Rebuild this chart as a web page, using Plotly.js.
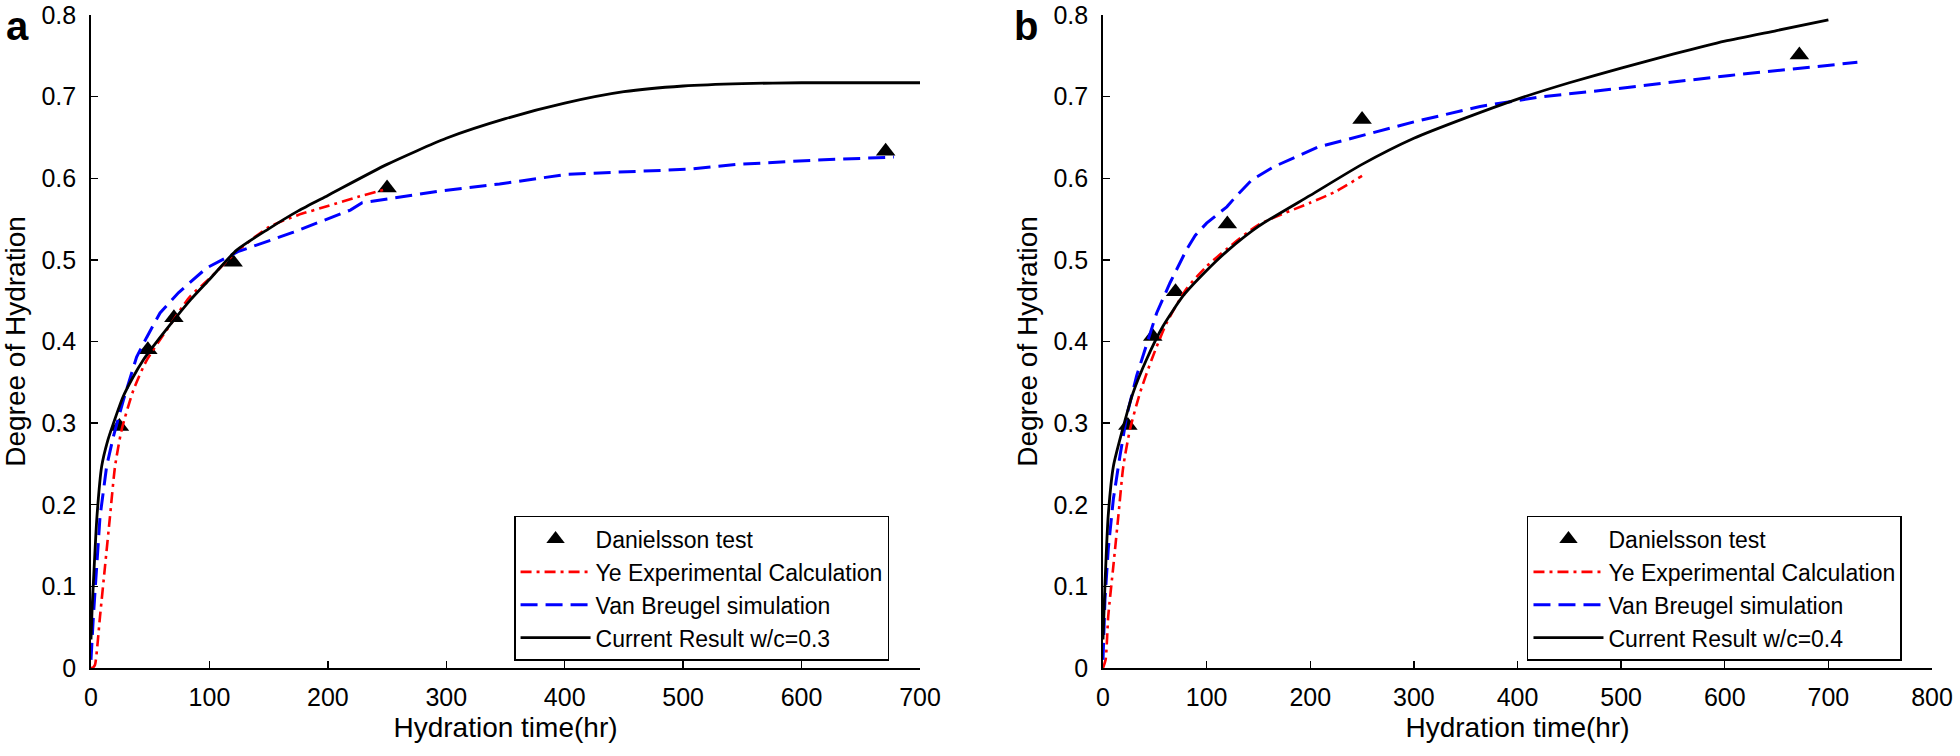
<!DOCTYPE html>
<html>
<head>
<meta charset="utf-8">
<script src="https://cdn.plot.ly/plotly-3.0.1.min.js"></script>
<style>html,body{margin:0;padding:0;background:#fff;}#chart{width:1960px;height:756px;}</style>
</head>
<body>
<div id="chart"></div>
<script>
// ---------- Panel a (w/c = 0.3) ----------
const danT_a = [24, 48, 70, 120, 250, 671];
const danV_a = [0.296, 0.39, 0.429, 0.497, 0.588, 0.633];

const yeT_a = [0, 2, 3.4, 7.6, 11.8, 16, 20.3, 25.9, 35.7, 47, 63.9, 83.6, 100, 123, 150, 175, 200, 225, 250];
const yeV_a = [0, 0.001, 0.004, 0.063, 0.124, 0.185, 0.247, 0.292, 0.34, 0.377, 0.414, 0.455, 0.477, 0.51, 0.54, 0.555, 0.566, 0.577, 0.587];

const vbT_a = [0, 0.5, 2, 4.8, 7.6, 13.2, 18.8, 27.3, 38.5, 47, 58.3, 74, 97.5, 124, 171, 219, 229, 293, 345, 403, 451, 504, 546, 609, 678];
const vbV_a = [0.01, 0.026, 0.063, 0.124, 0.185, 0.247, 0.283, 0.328, 0.381, 0.405, 0.435, 0.46, 0.49, 0.51, 0.534, 0.561, 0.57, 0.584, 0.593, 0.605, 0.608, 0.611, 0.617, 0.622, 0.626];

const curT_a = [0, 1, 2, 5, 9, 14, 19, 27, 35, 44, 52, 61, 72, 84, 100, 123, 150, 175, 200, 250, 300, 350, 400, 450, 500, 550, 600, 700];
const curV_a = [0.035, 0.075, 0.104, 0.185, 0.247, 0.278, 0.30, 0.332, 0.355, 0.377, 0.393, 0.41, 0.43, 0.451, 0.476, 0.512, 0.538, 0.56, 0.579, 0.617, 0.649, 0.673, 0.692, 0.706, 0.713, 0.716, 0.717, 0.717];

// ---------- Panel b (w/c = 0.4) ----------
const danT_b = [24, 48, 70, 120, 250, 672];
const danV_b = [0.297, 0.406, 0.461, 0.544, 0.672, 0.751];

const yeT_b = [0, 2.5, 5.1, 10, 14.8, 19.6, 26, 35.7, 47, 61.5, 80.8, 100, 120, 150, 200, 225, 250];
const yeV_b = [0, 0.01, 0.064, 0.125, 0.186, 0.247, 0.292, 0.337, 0.378, 0.423, 0.465, 0.492, 0.514, 0.543, 0.57, 0.584, 0.603];

const vbT_b = [0, 1.9, 5.1, 10, 16.4, 22.9, 32.5, 42.2, 51.8, 64.7, 80.8, 89, 100, 119.5, 128.5, 143.6, 164.7, 207, 249, 303, 364, 424, 484, 545, 605, 659, 728];
const vbV_b = [0.01, 0.084, 0.146, 0.207, 0.26, 0.309, 0.358, 0.398, 0.435, 0.472, 0.513, 0.53, 0.545, 0.565, 0.578, 0.598, 0.614, 0.638, 0.652, 0.67, 0.688, 0.70, 0.708, 0.717, 0.726, 0.733, 0.742];

const curT_b = [0, 2, 5, 10, 18, 29, 42, 58, 78, 100, 120, 150, 200, 250, 300, 350, 400, 450, 500, 550, 600, 650, 700];
const curV_b = [0.035, 0.105, 0.186, 0.247, 0.288, 0.337, 0.378, 0.419, 0.457, 0.487, 0.511, 0.541, 0.579, 0.617, 0.649, 0.674, 0.697, 0.717, 0.735, 0.752, 0.768, 0.781, 0.794];

const names = ['Danielsson test', 'Ye Experimental Calculation', 'Van Breugel simulation'];
const curNames = ['Current Result w/c=0.3', 'Current Result w/c=0.4'];

const FONT = 'Liberation Sans, Arial, sans-serif';
const redDash = '11px,5px,3px,5px';
const blueDash = '17px,8px';

function panel(xa, ya, leg, dT, dV, yT, yV, bT, bV, cT, cV, cName) {
  return [
    {x: dT, y: dV, xaxis: xa, yaxis: ya, legend: leg, name: names[0], type: 'scatter', mode: 'markers',
     marker: {symbol: 'triangle-up', size: 17, color: '#000'}},
    {x: yT, y: yV, xaxis: xa, yaxis: ya, legend: leg, name: names[1], type: 'scatter', mode: 'lines',
     line: {color: '#ff0000', width: 2.6, dash: redDash, shape: 'spline', smoothing: 0.6}},
    {x: bT, y: bV, xaxis: xa, yaxis: ya, legend: leg, name: names[2], type: 'scatter', mode: 'lines',
     line: {color: '#0000ff', width: 3, dash: blueDash}},
    {x: cT, y: cV, xaxis: xa, yaxis: ya, legend: leg, name: cName, type: 'scatter', mode: 'lines',
     line: {color: '#000', width: 2.8, shape: 'spline', smoothing: 0.6}}
  ];
}

const data = [].concat(
  panel('x', 'y', 'legend', danT_a, danV_a, yeT_a, yeV_a, vbT_a, vbV_a, curT_a, curV_a, curNames[0]),
  panel('x2', 'y2', 'legend2', danT_b, danV_b, yeT_b, yeV_b, vbT_b, vbV_b, curT_b, curV_b, curNames[1])
);

function xax(dom, maxv) {
  return {domain: dom, range: [0, maxv], dtick: 100, tick0: 0, showgrid: false, zeroline: false,
    showline: true, linecolor: '#000', linewidth: 1.8, ticks: 'inside', ticklen: 7, tickwidth: 1.4, tickcolor: '#000',
    tickfont: {family: FONT, size: 25, color: '#000'}, ticklabelstandoff: 6,
    title: {text: 'Hydration time(hr)', font: {family: FONT, size: 28, color: '#000'}, standoff: 8}};
}
function yax(anchor) {
  return {domain: [0, 1], range: [0, 0.8], dtick: 0.1, tick0: 0, showgrid: false, zeroline: false, anchor: anchor,
    showline: true, linecolor: '#000', linewidth: 1.8, ticks: 'inside', ticklen: 7, tickwidth: 1.4, tickcolor: '#000',
    tickfont: {family: FONT, size: 25, color: '#000'}, ticklabelstandoff: 8,
    title: {text: 'Degree of Hydration', font: {family: FONT, size: 28, color: '#000'}, standoff: 8}};
}
function leg(xp) {
  return {x: xp, y: 0.2328, xanchor: 'left', yanchor: 'top', bgcolor: '#fff', bordercolor: '#000', borderwidth: 1.5,
    font: {family: FONT, size: 23, color: '#000'}, tracegroupgap: 0, itemwidth: 70};
}

const layout = {
  width: 1960, height: 756,
  margin: {l: 91, r: 28, t: 15, b: 88},
  paper_bgcolor: '#fff', plot_bgcolor: '#fff',
  showlegend: true,
  xaxis: Object.assign(xax([0, 0.4503], 700), {anchor: 'y'}),
  yaxis: yax('x'),
  xaxis2: Object.assign(xax([0.5497, 1], 800), {anchor: 'y2'}),
  yaxis2: yax('x2'),
  legend: leg(0.2298),
  legend2: leg(0.78),
  annotations: [
    {text: '<b>a</b>', xref: 'paper', yref: 'paper', x: -0.047, y: 1.02, xanchor: 'left', yanchor: 'top', showarrow: false,
     font: {family: FONT, size: 40, color: '#000'}},
    {text: '<b>b</b>', xref: 'paper', yref: 'paper', x: 0.5, y: 1.02, xanchor: 'left', yanchor: 'top', showarrow: false,
     font: {family: FONT, size: 40, color: '#000'}}
  ]
};

Plotly.newPlot('chart', data, layout, {staticPlot: true, displayModeBar: false});
</script>
</body>
</html>
